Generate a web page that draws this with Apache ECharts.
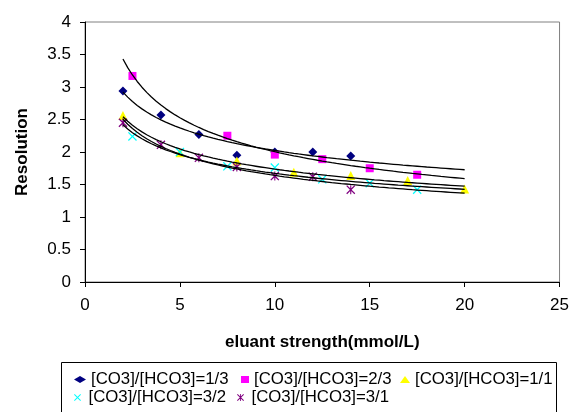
<!DOCTYPE html>
<html>
<head>
<meta charset="utf-8">
<script src="https://cdn.jsdelivr.net/npm/echarts@6/dist/echarts.min.js"></script>
<style>html,body{margin:0;padding:0;background:#fff;}#c{width:572px;height:412px;}</style>
</head>
<body>
<div id="c"></div>
<script>
// ---- data ----
const seriesNames = ['[CO3]/[HCO3]=1/3', '[CO3]/[HCO3]=2/3', '[CO3]/[HCO3]=1/1', '[CO3]/[HCO3]=3/2', '[CO3]/[HCO3]=3/1'];
const s1x = [2, 4, 6, 8, 10, 12, 14];
const s1y = [2.94, 2.57, 2.27, 1.95, 2.00, 2.00, 1.94];
const s2x = [2.5, 7.5, 10, 12.5, 15, 17.5];
const s2y = [3.17, 2.25, 1.96, 1.89, 1.75, 1.65];
const s3x = [2, 5, 8, 11, 14, 17, 20];
const s3y = [2.56, 1.99, 1.86, 1.69, 1.64, 1.56, 1.43];
const s4x = [2.5, 5, 7.5, 10, 12.5, 15, 17.5];
const s4y = [2.24, 2.00, 1.78, 1.76, 1.58, 1.52, 1.42];
const s5x = [2, 4, 6, 8, 10, 12, 14];
const s5y = [2.45, 2.11, 1.91, 1.77, 1.63, 1.62, 1.42];
const trendRange = [2, 20];
const xTicks = {min: 0, max: 25, interval: 5};
const yTicks = {min: 0, max: 4, interval: 0.5};

// ---- styles ----
const FONT = 'Liberation Sans, Arial, sans-serif';
const colors = ['#000080', '#FF00FF', '#FFFF00', '#00FFFF', '#800080'];
const xPath = 'path://M0,1 L1,0 L5,4 L9,0 L10,1 L6,5 L10,9 L9,10 L5,6 L1,10 L0,9 L4,5 Z';
const starPath = 'path://M0,1 L1,0 L5,4 L9,0 L10,1 L6,5 L10,9 L9,10 L5,6 L1,10 L0,9 L4,5 Z M4.4,0 L5.6,0 L5.6,10 L4.4,10 Z';
const symbols = ['diamond', 'rect', 'triangle', xPath, starPath];
const symSizes = [9, 8, 9, 9, 9];

const xs = [s1x, s2x, s3x, s4x, s5x];
const ys = [s1y, s2y, s3y, s4y, s5y];

// power-law trendline (least squares on logs), like the spreadsheet trendline
function powerFit(x, y) {
  const n = x.length;
  const lx = x.map(Math.log), ly = y.map(Math.log);
  const mx = lx.reduce((a, b) => a + b, 0) / n, my = ly.reduce((a, b) => a + b, 0) / n;
  let sxy = 0, sxx = 0;
  for (let i = 0; i < n; i++) { sxy += (lx[i] - mx) * (ly[i] - my); sxx += (lx[i] - mx) ** 2; }
  const b = sxy / sxx, a = Math.exp(my - b * mx);
  const pts = [];
  for (let t = trendRange[0]; t <= trendRange[1] + 1e-9; t += 0.25) pts.push([t, a * Math.pow(t, b)]);
  return pts;
}

const series = [];
for (let i = 0; i < 5; i++) {
  series.push({
    name: seriesNames[i], type: 'scatter', symbol: symbols[i], symbolSize: symSizes[i],
    itemStyle: {color: colors[i], opacity: 1}, z: 2,
    data: xs[i].map((v, k) => [v, ys[i][k]])
  });
}
for (let i = 0; i < 5; i++) {
  series.push({
    name: 'trend' + i, type: 'line', showSymbol: false, symbol: 'none', z: 3,
    lineStyle: {color: '#000', width: 1.3}, data: powerFit(xs[i], ys[i])
  });
}

// legend slots: [left, top, iconBoxWidth]
const legendPos = [[74, 371, 12], [241, 371, 8], [400, 371, 10], [74, 389, 12], [237, 389, 12]];
const legends = seriesNames.map((nm, i) => ({
  data: [{name: nm, icon: symbols[i]}], left: legendPos[i][0], top: legendPos[i][1],
  padding: 0, itemWidth: legendPos[i][2], itemHeight: 7, itemGap: 0, selectedMode: false,
  textStyle: {fontFamily: FONT, fontSize: 16.8, color: '#000'}
}));

const chart = echarts.init(document.getElementById('c'), null, {renderer: 'canvas'});
chart.setOption({
  animation: false,
  backgroundColor: '#fff',
  grid: {left: 85, top: 22, right: 12, bottom: 130, show: true, borderColor: '#808080', borderWidth: 1, backgroundColor: 'transparent'},
  xAxis: {
    type: 'value', min: xTicks.min, max: xTicks.max, interval: xTicks.interval,
    name: 'eluant strength(mmol/L)', nameLocation: 'middle', nameGap: 52,
    nameTextStyle: {fontFamily: FONT, fontSize: 17, fontWeight: 'bold', color: '#000'},
    axisLine: {show: true, lineStyle: {color: '#000', width: 1}},
    axisTick: {show: true, inside: false, length: 5, lineStyle: {color: '#000'}},
    axisLabel: {fontFamily: FONT, fontSize: 17, color: '#000', margin: 15},
    splitLine: {show: false}
  },
  yAxis: {
    type: 'value', min: yTicks.min, max: yTicks.max, interval: yTicks.interval,
    name: 'Resolution', nameLocation: 'middle', nameGap: 54,
    nameTextStyle: {fontFamily: FONT, fontSize: 17, fontWeight: 'bold', color: '#000'},
    axisLine: {show: true, lineStyle: {color: '#000', width: 1}},
    axisTick: {show: true, inside: false, length: 5, lineStyle: {color: '#000'}},
    axisLabel: {fontFamily: FONT, fontSize: 17, color: '#000', margin: 14},
    splitLine: {show: false}
  },
  legend: legends,
  graphic: [{type: 'rect', shape: {x: 61.5, y: 362.5, width: 495, height: 60}, style: {fill: 'none', stroke: '#000', lineWidth: 1}, silent: true}],
  series: series
});
</script>
</body>
</html>
